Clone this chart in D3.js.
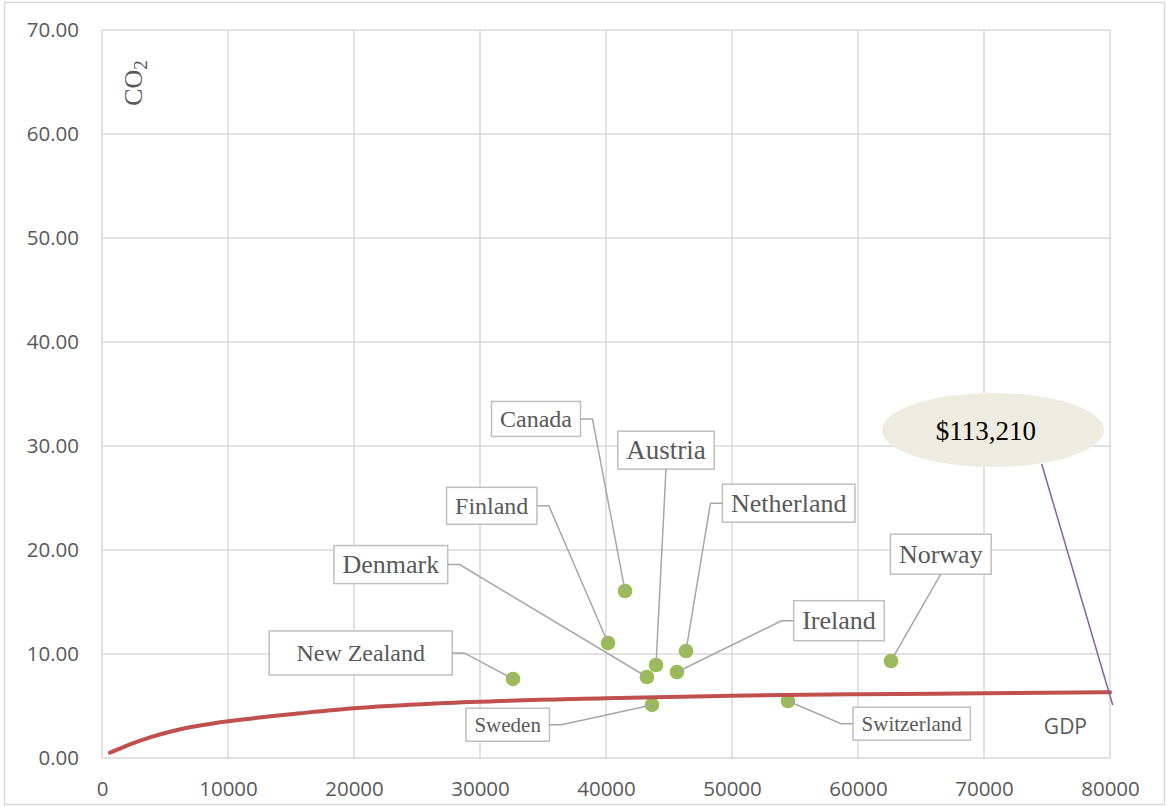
<!DOCTYPE html>
<html>
<head>
<meta charset="utf-8">
<script src="https://cdn.jsdelivr.net/npm/d3@7"></script>
<style>
body { margin: 0; background: #fff; }
svg { display: block; }
</style>
</head>
<body>
<svg width="1167" height="807"></svg>
<script>
var width = 1167, height = 807;
var margin = {top: 30, right: 57, bottom: 49, left: 102};
var w = width - margin.left - margin.right,
    h = height - margin.top - margin.bottom;

// data
var countries = ['New Zealand', 'Canada', 'Finland', 'Denmark', 'Austria',
                 'Netherland', 'Ireland', 'Norway', 'Sweden', 'Switzerland'];
var gdp = [32620, 41510, 40160, 43250, 43970, 46350, 45630, 62620, 43650, 54440];
var co2 = [7.60, 16.06, 11.06, 7.79, 8.94, 10.29, 8.27, 9.33, 5.10, 5.48];

// trend line sampled along the red curve
var trendGdp = [635, 2222, 3810, 5397, 6984, 8571, 10000, 11746, 13571, 15714,
                20000, 26825, 40000, 50000, 60000, 70000, 80000];
var trendCo2 = [0.51, 1.32, 1.99, 2.53, 2.95, 3.27, 3.53, 3.78, 4.04, 4.30,
                4.78, 5.26, 5.74, 5.99, 6.13, 6.22, 6.32];

var xTicks = [0, 10000, 20000, 30000, 40000, 50000, 60000, 70000, 80000];
var yTicks = [0, 10, 20, 30, 40, 50, 60, 70];

// callout: "$113,210" bubble pointing off the chart
var calloutText = '$113,210';
var calloutAt = [70714, 31.54];
var calloutLine = [[74579, 28.27], [80214, 5.10]];

// label boxes (box centre in data units, font size, box height, leader side)
var labelLayout = [
  {gdp: 20532, co2: 10.10, size: 24, bh: 44, side: 'right', bw: 183},
  {gdp: 34444, co2: 32.60, size: 24, bh: 35, side: 'right'},
  {gdp: 30929, co2: 24.25, size: 24, bh: 37, side: 'right'},
  {gdp: 22921, co2: 18.60, size: 26, bh: 38, side: 'right'},
  {gdp: 44762, co2: 29.60, size: 27, bh: 38, side: 'bottom'},
  {gdp: 54500, co2: 24.50, size: 26, bh: 38, side: 'left'},
  {gdp: 58492, co2: 13.20, size: 26, bh: 40, side: 'left'},
  {gdp: 66571, co2: 19.60, size: 26, bh: 40, side: 'bottom'},
  {gdp: 32198, co2: 3.20, size: 21, bh: 33, side: 'right'},
  {gdp: 64262, co2: 3.30, size: 21, bh: 33, side: 'left'}
];

var svg = d3.select('svg');

svg.append('rect')
  .attr('x', 4.5).attr('y', 2.5)
  .attr('width', 1160).attr('height', 802)
  .attr('fill', 'white')
  .attr('stroke', '#d9d9d9')
  .attr('stroke-width', 1.5);

var g = svg.append('g')
  .attr('transform', 'translate(' + margin.left + ',' + margin.top + ')');

var x = d3.scaleLinear().domain([0, 80000]).range([0, w]);
var y = d3.scaleLinear().domain([0, 70]).range([h, 0]);

// grid
g.append('g')
  .selectAll('line.vg')
  .data(xTicks)
  .enter().append('line')
  .attr('x1', function(d) { return x(d); })
  .attr('x2', function(d) { return x(d); })
  .attr('y1', 0).attr('y2', h)
  .attr('stroke', '#d9d9d9').attr('stroke-width', 1.5);

g.append('g')
  .selectAll('line.hg')
  .data(yTicks)
  .enter().append('line')
  .attr('x1', 0).attr('x2', w)
  .attr('y1', function(d) { return y(d); })
  .attr('y2', function(d) { return y(d); })
  .attr('stroke', '#d9d9d9').attr('stroke-width', 1.5);

// axes
var yAxis = g.append('g')
  .call(d3.axisLeft(y).tickValues(yTicks).tickSize(0).tickPadding(23)
        .tickFormat(d3.format('.2f')));
var xAxis = g.append('g')
  .attr('transform', 'translate(0,' + h + ')')
  .call(d3.axisBottom(x).tickValues(xTicks).tickSize(0).tickPadding(23)
        .tickFormat(d3.format('d')));

[yAxis, xAxis].forEach(function(a) {
  a.select('.domain').remove();
  a.selectAll('text')
    .attr('fill', '#595959')
    .style('font-family', '"Open Sans", sans-serif')
    .style('font-size', '20.5px');
});

// axis titles
g.append('text')
  .attr('transform', 'translate(' + 40 + ',' + 53 + ')rotate(-90)')
  .attr('text-anchor', 'middle')
  .attr('fill', '#595959')
  .style('font-family', '"Liberation Serif", "Times New Roman", serif')
  .style('font-size', '26px')
  .text('CO')
  .append('tspan')
  .attr('dy', 5)
  .style('font-size', '19px')
  .text('2');

g.append('text')
  .attr('x', w - 23)
  .attr('y', h - 24)
  .attr('text-anchor', 'end')
  .attr('fill', '#595959')
  .style('font-family', '"Open Sans", sans-serif')
  .style('font-size', '21px')
  .text('GDP');

var points = countries.map(function(c, i) {
  return {name: c, gdp: gdp[i], co2: co2[i], lay: labelLayout[i]};
});

// dots
g.append('g')
  .selectAll('circle')
  .data(points)
  .enter().append('circle')
  .attr('cx', function(d) { return x(d.gdp); })
  .attr('cy', function(d) { return y(d.co2); })
  .attr('r', 7.3)
  .attr('fill', '#9bbb59');

// labels and leaders
var gLabels = g.append('g');
points.forEach(function(d) {
  var cx = x(d.lay.gdp), cy = y(d.lay.co2);
  var t = gLabels.append('text')
    .attr('x', cx)
    .attr('y', cy + d.lay.size * 0.33)
    .attr('text-anchor', 'middle')
    .attr('fill', '#595959')
    .style('font-family', '"Liberation Serif", "Times New Roman", serif')
    .style('font-size', d.lay.size + 'px')
    .text(d.name);
  var bw = d.lay.bw || t.node().getComputedTextLength() + 17;
  var bh = d.lay.bh;
  gLabels.insert('rect', 'text')
    .attr('x', cx - bw / 2).attr('y', cy - bh / 2)
    .attr('width', bw).attr('height', bh)
    .attr('fill', 'white')
    .attr('stroke', '#bfbfbf')
    .attr('stroke-width', 1.5);

  var pts;
  if (d.lay.side == 'right') {
    pts = [[cx + bw / 2, cy], [cx + bw / 2 + 12, cy]];
  } else if (d.lay.side == 'left') {
    pts = [[cx - bw / 2, cy], [cx - bw / 2 - 12, cy]];
  } else {
    pts = [[cx, cy + bh / 2]];
  }
  pts.push([x(d.gdp), y(d.co2)]);
  g.append('path')
    .attr('d', d3.line()(pts))
    .attr('fill', 'none')
    .attr('stroke', '#a6a6a6')
    .attr('stroke-width', 1.5);
});

// trend line
var trend = trendGdp.map(function(v, i) { return [v, trendCo2[i]]; });
g.append('path')
  .datum(trend)
  .attr('d', d3.line()
    .x(function(d) { return x(d[0]); })
    .y(function(d) { return y(d[1]); })
    .curve(d3.curveMonotoneX))
  .attr('fill', 'none')
  .attr('stroke', '#c0504d')
  .attr('stroke-width', 4)
  .attr('stroke-linecap', 'round');

// callout
g.append('line')
  .attr('x1', x(calloutLine[0][0])).attr('y1', y(calloutLine[0][1]))
  .attr('x2', x(calloutLine[1][0])).attr('y2', y(calloutLine[1][1]))
  .attr('stroke', '#8064a2')
  .attr('stroke-width', 1.5);

g.append('ellipse')
  .attr('cx', x(calloutAt[0])).attr('cy', y(calloutAt[1]))
  .attr('rx', 111).attr('ry', 37)
  .attr('fill', '#eeece1');

g.append('text')
  .attr('x', x(calloutAt[0]) - 7)
  .attr('y', y(calloutAt[1]) + 10)
  .attr('text-anchor', 'middle')
  .attr('fill', '#000')
  .style('font-family', '"Liberation Serif", "Times New Roman", serif')
  .style('font-size', '27px')
  .text(calloutText);
</script>
</body>
</html>
